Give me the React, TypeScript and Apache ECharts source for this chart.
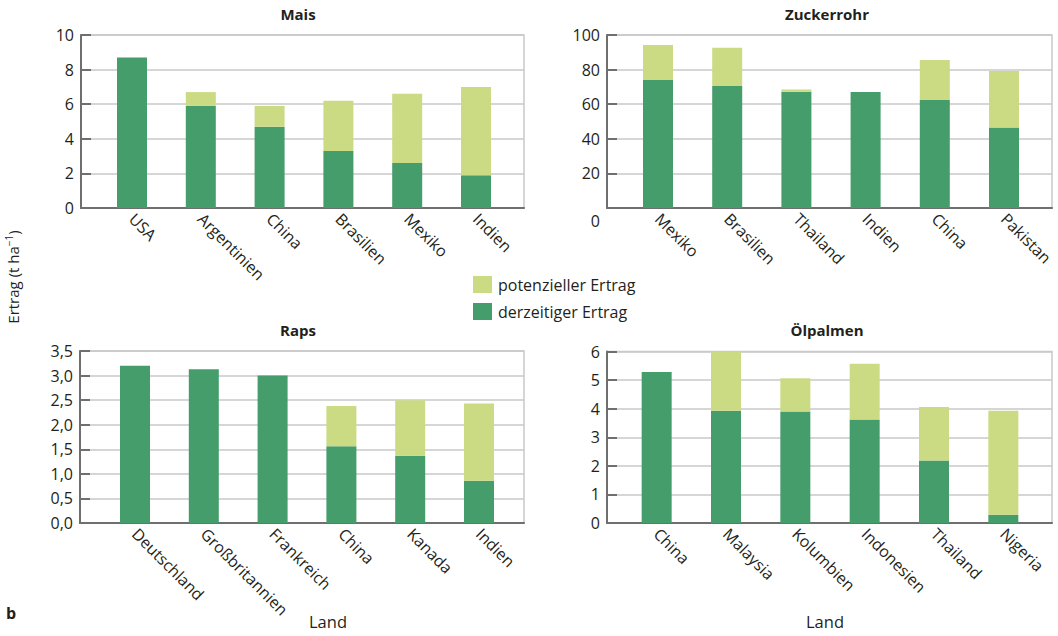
import React, { useEffect, useRef } from "react";
import * as echarts from "echarts";

// Crop yields (t/ha): current and attainable, per crop and country
const maisLaender = ["USA", "Argentinien", "China", "Brasilien", "Mexiko", "Indien"];
const maisDerzeitig = [8.7, 5.9, 4.7, 3.3, 2.6, 1.9];
const maisPotenziell = [8.7, 6.7, 5.9, 6.2, 6.6, 7.0];

const zuckerLaender = ["Mexiko", "Brasilien", "Thailand", "Indien", "China", "Pakistan"];
const zuckerDerzeitig = [74, 70.5, 67.2, 67, 62.4, 46.5];
const zuckerPotenziell = [94.2, 92.6, 68.5, 67, 85.5, 79.2];

const rapsLaender = ["Deutschland", "Großbritannien", "Frankreich", "China", "Kanada", "Indien"];
const rapsDerzeitig = [3.2, 3.13, 3.0, 1.56, 1.37, 0.86];
const rapsPotenziell = [3.2, 3.13, 3.0, 2.38, 2.5, 2.43];

const palmLaender = ["China", "Malaysia", "Kolumbien", "Indonesien", "Thailand", "Nigeria"];
const palmDerzeitig = [5.28, 3.93, 3.9, 3.62, 2.19, 0.29];
const palmPotenziell = [5.28, 6.0, 5.06, 5.57, 4.06, 3.93];

const titel = ["Mais", "Zuckerrohr", "Raps", "Ölpalmen"];
const yAchsen = [
  { max: 10, interval: 2 },
  { max: 100, interval: 20 },
  { max: 3.5, interval: 0.5 },
  { max: 6, interval: 1 },
];

const NAME_AKTUELL = "derzeitiger Ertrag";
const NAME_POTENZIAL = "potenzieller Ertrag";

const FONT = "'Open Sans', sans-serif";
const TEXT = "#231f20";
const DUNKELGRUEN = "#449d6b";
const HELLGRUEN = "#cadb83";
const ACHSE = "#6f6f6f";
const RASTER = "#c9c9c9";

// Frame (axes, gridlines) and inner band (bars, country labels) of each panel
const layouts = [
  { frame: { left: 81, top: 35, width: 443, height: 173 }, bars: { left: 97.6, width: 412.8 }, tx: 298, ty: 14 },
  { frame: { left: 607, top: 35, width: 445, height: 173 }, bars: { left: 623.4, width: 415.2 }, tx: 827, ty: 14 },
  { frame: { left: 80, top: 351, width: 444, height: 172 }, bars: { left: 100.6, width: 412.8 }, tx: 298, ty: 330 },
  { frame: { left: 607, top: 351.5, width: 445, height: 171.5 }, bars: { left: 622, width: 416 }, tx: 827, ty: 330 },
];

const panels = [
  { laender: maisLaender, aktuell: maisDerzeitig, potenzial: maisPotenziell },
  { laender: zuckerLaender, aktuell: zuckerDerzeitig, potenzial: zuckerPotenziell },
  { laender: rapsLaender, aktuell: rapsDerzeitig, potenzial: rapsPotenziell },
  { laender: palmLaender, aktuell: palmDerzeitig, potenzial: palmPotenziell },
];

function tickFormatter(i: number) {
  if (i === 1) return (v: number) => (v === 0 ? "{low|0}" : String(v));
  if (i === 2) return (v: number) => v.toFixed(1).replace(".", ",");
  return (v: number) => String(v);
}

function buildOption() {
  const grid: any[] = [];
  const xAxis: any[] = [];
  const yAxis: any[] = [];
  const series: any[] = [];
  const graphic: any[] = [];

  panels.forEach((p, i) => {
    const L = layouts[i];
    const fg = i * 2;
    const bg = i * 2 + 1;
    const ya = yAchsen[i];

    grid.push({
      ...L.frame,
      show: true,
      borderColor: RASTER,
      borderWidth: 1.5,
      backgroundColor: "transparent",
    });
    grid.push({ left: L.bars.left, width: L.bars.width, top: L.frame.top, height: L.frame.height });

    // frame axes
    xAxis.push({
      gridIndex: fg,
      type: "value",
      min: 0,
      max: 1,
      axisLine: { show: true, lineStyle: { color: ACHSE, width: 2 } },
      axisTick: { show: false },
      axisLabel: { show: false },
      splitLine: { show: false },
    });
    yAxis.push({
      gridIndex: fg,
      type: "value",
      min: 0,
      max: ya.max,
      interval: ya.interval,
      axisLine: { show: true, lineStyle: { color: ACHSE, width: 2 } },
      axisTick: { show: true, inside: true, length: 10, lineStyle: { color: ACHSE, width: 2 } },
      splitLine: { show: true, lineStyle: { color: RASTER, width: 1.5 } },
      axisLabel: {
        color: TEXT,
        fontFamily: FONT,
        fontSize: 16,
        margin: 7,
        formatter: tickFormatter(i),
        rich: { low: { padding: [26, 0, 0, 0], color: TEXT, fontFamily: FONT, fontSize: 16 } },
      },
    });

    // bar axes
    xAxis.push({
      gridIndex: bg,
      type: "category",
      data: p.laender,
      axisLine: { show: false },
      axisTick: { show: false },
      axisLabel: {
        rotate: -45,
        interval: 0,
        margin: 8,
        color: TEXT,
        fontFamily: FONT,
        fontSize: 16,
      },
    });
    yAxis.push({ gridIndex: bg, type: "value", min: 0, max: ya.max, show: false });

    series.push({
      name: NAME_AKTUELL,
      type: "bar",
      xAxisIndex: bg,
      yAxisIndex: bg,
      stack: "s" + i,
      barWidth: 30,
      itemStyle: { color: DUNKELGRUEN },
      data: p.aktuell,
    });
    series.push({
      name: NAME_POTENZIAL,
      type: "bar",
      xAxisIndex: bg,
      yAxisIndex: bg,
      stack: "s" + i,
      barWidth: 30,
      itemStyle: { color: HELLGRUEN },
      data: p.potenzial.map((v, k) => +(v - p.aktuell[k]).toFixed(3)),
    });

    graphic.push({
      type: "text",
      x: L.tx,
      y: L.ty,
      style: {
        text: titel[i],
        fontFamily: FONT,
        fontWeight: "bold",
        fontSize: 15,
        fill: TEXT,
        align: "center",
        verticalAlign: "middle",
      },
    });
  });

  graphic.push(
    {
      type: "text",
      x: 13,
      y: 277,
      rotation: Math.PI / 2,
      style: {
        text: "Ertrag (t ha{sup|−1})",
        fontFamily: FONT,
        fontSize: 15,
        fill: TEXT,
        align: "center",
        verticalAlign: "middle",
        rich: { sup: { fontSize: 10, verticalAlign: "top", padding: [0, 0, 8, 0], fill: TEXT, fontFamily: FONT } },
      },
    },
    {
      type: "text",
      x: 11,
      y: 613,
      style: { text: "b", fontFamily: FONT, fontWeight: "bold", fontSize: 16, fill: TEXT, align: "center", verticalAlign: "middle" },
    },
    {
      type: "text",
      x: 328,
      y: 621,
      style: { text: "Land", fontFamily: FONT, fontSize: 16.5, fill: TEXT, align: "center", verticalAlign: "middle" },
    },
    {
      type: "text",
      x: 825,
      y: 621,
      style: { text: "Land", fontFamily: FONT, fontSize: 16.5, fill: TEXT, align: "center", verticalAlign: "middle" },
    }
  );

  return {
    animation: false,
    backgroundColor: "#ffffff",
    textStyle: { fontFamily: FONT },
    legend: {
      orient: "vertical",
      left: 468,
      top: 271,
      itemWidth: 19,
      itemHeight: 17,
      itemGap: 10,
      icon: "rect",
      data: [NAME_POTENZIAL, NAME_AKTUELL],
      textStyle: { color: TEXT, fontFamily: FONT, fontSize: 16, padding: [0, 0, 0, 1] },
    },
    grid,
    xAxis,
    yAxis,
    series,
    graphic,
  };
}

export default function App() {
  const ref = useRef<HTMLDivElement>(null);
  useEffect(() => {
    if (!ref.current) return;
    const chart = echarts.init(ref.current, undefined, { renderer: "svg" });
    chart.setOption(buildOption() as any);
    return () => chart.dispose();
  }, []);
  return (
    <div
      ref={ref}
      style={{ position: "absolute", left: 0, top: 0, width: 1058, height: 636, background: "#fff" }}
    />
  );
}
